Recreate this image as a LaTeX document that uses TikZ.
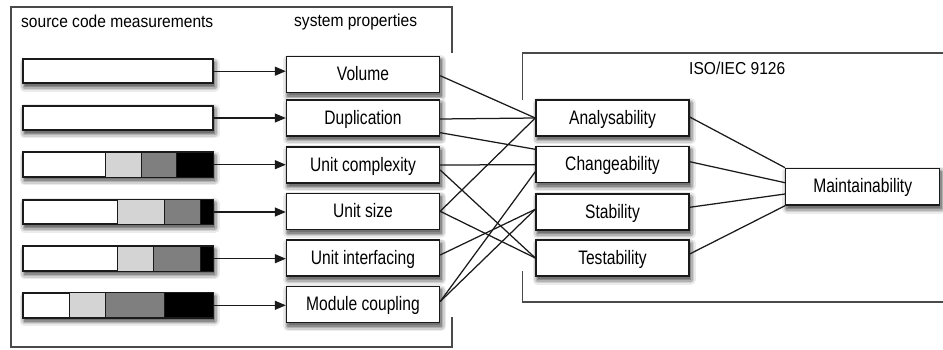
\documentclass[tikz,border=0pt]{standalone}
\usepackage{fontspec}
\setmainfont{Liberation Sans}
\newfontfamily\boxfont[FakeStretch=0.8]{Liberation Sans}
\newfontfamily\headfont[FakeStretch=0.9]{Liberation Sans}
\usetikzlibrary{arrows.meta,calc}
\definecolor{ink}{HTML}{1A1A1A}
\definecolor{framegray}{HTML}{4A4A4A}
\definecolor{barlight}{HTML}{D4D4D4}
\definecolor{barmid}{HTML}{7F7F7F}

\begin{document}
\begin{tikzpicture}[x=1pt,y=-1pt,
  box/.style={draw=ink,line width=1.4pt,fill=white,
      minimum width=153pt,minimum height=36pt,inner sep=0pt,
      text height=13pt,text depth=0.5pt,
      font=\boxfont\fontsize{19.5}{20}\selectfont},
  bar/.style={draw=ink,line width=1.4pt,fill=white,
      minimum width=190pt,minimum height=24pt,inner sep=0pt},
  seg/.style={draw=ink,line width=1.2pt},
  wire/.style={draw=ink,line width=1.25pt},
  feed/.style={draw=ink,line width=1.3pt,-{Triangle[length=11pt,width=9pt]}},
  frame/.style={draw=framegray,line width=1.3pt},
  shadowrim/.style={line join=round},
  head/.style={inner sep=0pt,anchor=base west,
      font=\headfont\fontsize{17.3}{18}\selectfont}]

\useasboundingbox (0,0) rectangle (943,350);

% group frames (their sides are broken where the boxes sit)
\draw[frame] (452,53) -- (452,7) -- (11,7) -- (11,347) -- (452,347) -- (452,317);
\draw[frame] (943,53) -- (522.5,53) -- (522.5,100);
\draw[frame] (522.5,271) -- (522.5,302) -- (943,302);

% soft drop shadows (centre x, centre y, width, height), graded greys from the outside in
\foreach \cx/\cy/\w/\h in {118/71.2/190/24, 118/118/190/24, 118/164.7/190/24,
    118/212/190/24, 118/258.7/190/24, 118/305.3/190/24,
    363/74.7/153/36, 363/118/153/36, 363/165/153/36, 363/211.3/153/36,
    363/258/153/36, 363/304.5/153/36,
    612.5/118/153/36, 612.5/164.7/153/36, 612.5/212/153/36, 612.5/258/153/36,
    862.7/186.7/154/36.7}{
  \draw[shadowrim,black!8,line width=10pt]
    (\cx-\w/2+1.5,\cy-\h/2+3.5) rectangle (\cx+\w/2+1.5,\cy+\h/2+3.5);
  \draw[shadowrim,black!18,line width=7pt]
    (\cx-\w/2+1.5,\cy-\h/2+3.5) rectangle (\cx+\w/2+1.5,\cy+\h/2+3.5);
  \draw[shadowrim,black!30,line width=4pt]
    (\cx-\w/2+1.5,\cy-\h/2+3.5) rectangle (\cx+\w/2+1.5,\cy+\h/2+3.5);
  \draw[shadowrim,black!45,line width=1.5pt,fill=black!55]
    (\cx-\w/2+1.5,\cy-\h/2+3.5) rectangle (\cx+\w/2+1.5,\cy+\h/2+3.5);
}

% headings
\node[head] (hsrc) at (21,27.3) {source code measurements};
\node[head] (hsys) at (294,26.8) {system properties};
\node[head] (hiso) at (689,75) {ISO/IEC 9126};

% measurement bars
\node[bar] (b1) at (118,71.2) {};
\node[bar] (b2) at (118,118) {};
\node[bar] (b3) at (118,164.7) {};
\node[bar] (b4) at (118,212) {};
\node[bar] (b5) at (118,258.7) {};
\node[bar] (b6) at (118,305.3) {};

% risk profile segments: light, mid, dark (offsets from the bar's left side)
\foreach \b/\p/\q/\r in {b3/83/119/154, b4/95/142/178, b5/95/131/178, b6/47/83/142}{
  \fill[barlight] ($(\b.north west)+(\p,0)$) rectangle ($(\b.south west)+(\q,0)$);
  \fill[barmid]   ($(\b.north west)+(\q,0)$) rectangle ($(\b.south west)+(\r,0)$);
  \fill[black]    ($(\b.north west)+(\r,0)$) rectangle (\b.south east);
  \draw[seg] ($(\b.north west)+(\p,0)$) -- ($(\b.south west)+(\p,0)$);
  \draw[seg] ($(\b.north west)+(\q,0)$) -- ($(\b.south west)+(\q,0)$);
  \draw[seg] ($(\b.north west)+(\r,0)$) -- ($(\b.south west)+(\r,0)$);
  \draw[ink,line width=1.4pt] (\b.north west) rectangle (\b.south east);
}

% system properties
\node[box] (vol) at (363,74.7) {Volume};
\node[box] (dup) at (363,118) {Duplication};
\node[box] (uc)  at (363,165) {Unit complexity};
\node[box] (us)  at (363,211.3) {Unit size};
\node[box] (ui)  at (363,258) {Unit interfacing};
\node[box] (mc)  at (363,304.5) {Module coupling};

% ISO/IEC 9126 characteristics
\node[box] (ana) at (612.5,118) {Analysability};
\node[box] (chg) at (612.5,164.7) {Changeability};
\node[box] (stb) at (612.5,212) {Stability};
\node[box] (tst) at (612.5,258) {Testability};
\node[box,minimum width=154pt,minimum height=36.7pt] (mnt) at (862.7,186.7) {Maintainability};

% measurements feed the properties
\foreach \b/\s in {b1/vol, b2/dup, b3/uc, b4/us, b5/ui, b6/mc}
  \draw[feed] (\b.east) -- (\b.east -| \s.west);

% properties map onto characteristics
\draw[wire] ($(vol.east)+(0,1)$) -- (ana.west);
\draw[wire] ($(dup.east)+(0,1)$) -- (ana.west);
\draw[wire] ($(dup.east)+(0,14.7)$) -- ($(chg.west)+(0,-15.4)$);
\draw[wire] (uc.east) -- (chg.west);
\draw[wire] ($(uc.east)+(0,5)$) -- (tst.west);
\draw[wire] (us.east) -- (ana.west);
\draw[wire] (us.east) -- (tst.west);
\draw[wire] ($(ui.east)+(0,-3)$) -- ($(stb.west)+(0,-2.7)$);
\draw[wire] ($(mc.east)+(0,-3)$) -- ($(stb.west)+(0,-2.7)$);
\draw[wire] ($(mc.east)+(0,-3)$) -- ($(chg.west)+(0,7)$);

% characteristics combine into maintainability
\draw[wire] ($(ana.east)+(0,-1)$) -- (mnt.north west);
\draw[wire] ($(chg.east)+(0,-3)$) -- ($(mnt.west)+(0,-4)$);
\draw[wire] ($(stb.east)+(0,-4.7)$) -- ($(mnt.west)+(0,7.3)$);
\draw[wire] ($(tst.east)+(0,-4)$) -- (mnt.south west);
\end{tikzpicture}
\end{document}
